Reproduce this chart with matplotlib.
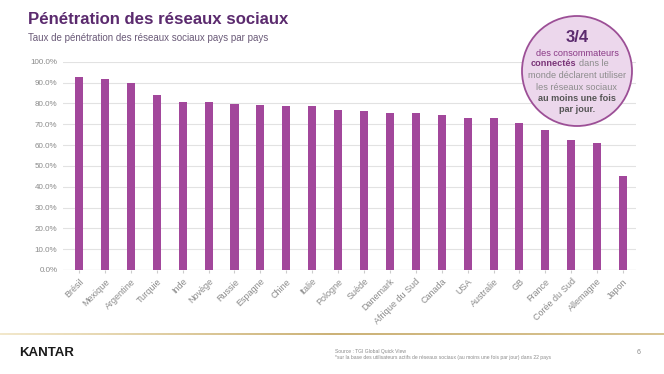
import matplotlib.pyplot as plt
import numpy as np
from matplotlib.patches import Circle

plt.rcParams['font.family'] = ['Liberation Sans', 'DejaVu Sans']

# Données (taux de pénétration, %)
pays = ['Brésil', 'Mexique', 'Argentine', 'Turquie', 'Inde', 'Novège', 'Russie',
        'Espagne', 'Chine', 'Italie', 'Pologne', 'Suède', 'Danemark',
        'Afrique du Sud', 'Canada', 'USA', 'Australie', 'GB', 'France',
        'Corée du Sud', 'Allemagne', 'Japon']
taux = [92.5, 91.7, 89.6, 84.2, 80.7, 80.5, 79.8, 79.4, 78.9, 78.6, 76.7, 76.4,
        75.6, 75.3, 74.3, 73.0, 72.9, 70.8, 67.0, 62.5, 61.2, 44.9]
graduations = [0, 10, 20, 30, 40, 50, 60, 70, 80, 90, 100]

violet = '#a2479b'
violet_fonce = '#5b2a6e'
gris = '#8a8a8a'

W, H = 664, 374
fig = plt.figure(figsize=(W / 100, H / 100), dpi=100)
fig.patch.set_facecolor('white')

ax = fig.add_axes([63 / W, 1 - 270 / H, (636 - 63) / W, (270 - 61.7) / H])
x = np.arange(len(pays))
ax.bar(x, taux, width=0.31, color=violet, zorder=3)
ax.set_xlim(-0.62, len(pays) - 0.5)
ax.set_ylim(0, 100)
ax.set_yticks(graduations)
ax.set_yticklabels([f'{v:.1f}%' for v in graduations], fontsize=5.8, color=gris)
ax.set_xticks(x)
ax.set_xticklabels(pays, rotation=45, ha='right', rotation_mode='anchor',
                   fontsize=6.5, color=gris)
ax.tick_params(axis='y', length=0, pad=4)
ax.tick_params(axis='x', length=2, color='#cccccc', pad=3)
ax.grid(axis='y', color='#e2e2e2', linewidth=0.8, zorder=0)
for sp in ax.spines.values():
    sp.set_visible(False)
ax.axhline(0, color='#d8d8d8', linewidth=0.8, zorder=1)

# Titres
fig.text(28 / W, 1 - 20 / H, 'Pénétration des réseaux sociaux', fontsize=12.1,
         fontweight='bold', color=violet_fonce, va='center')
fig.text(28 / W, 1 - 38 / H, 'Taux de pénétration des réseaux sociaux pays par pays',
         fontsize=7.0, color='#6a5a78', va='center')

# Bulle
cx, cy, r = 577, 71, 55
circ = Circle((cx / 100, (H - cy) / 100), r / 100, transform=fig.dpi_scale_trans,
              facecolor='#ecd7ec', edgecolor='#9c4f96', linewidth=1.3, zorder=5)
fig.patches.append(circ)

def ligne(y, txt, **kw):
    fig.text(cx / W, 1 - y / H, txt, ha='center', va='center', zorder=6, **kw)

ligne(37, '3/4', fontsize=12, fontweight='bold', color=violet_fonce)
ligne(53, 'des consommateurs', fontsize=6.6, color='#8a3a86')
fig.text(576 / W, 1 - 64 / H, 'connectés', ha='right', va='center', fontsize=6.6,
         fontweight='bold', color='#7a3478', zorder=6)
fig.text(579 / W, 1 - 64 / H, 'dans le', ha='left', va='center', fontsize=6.6,
         color='#8c8c8c', zorder=6)
ligne(75.5, 'monde déclarent utiliser', fontsize=6.6, color='#8c8c8c')
ligne(87, 'les réseaux sociaux', fontsize=6.6, color='#8c8c8c')
ligne(98.5, 'au moins une fois', fontsize=6.6, fontweight='bold', color='#555555')
ligne(110, 'par jour.', fontsize=6.6, fontweight='bold', color='#555555')

# Filet doré
ax_or = fig.add_axes([0, 1 - 335 / H, 1, 2 / H])
grad = np.linspace(0, 1, 256)
couleurs = np.array([[0.95, 0.91, 0.80], [0.80, 0.70, 0.47], [0.85, 0.77, 0.58]])
pts = np.linspace(0, 1, len(couleurs))
img = np.stack([np.interp(grad, pts, couleurs[:, k]) for k in range(3)], axis=-1)
ax_or.imshow(img[None, :, :], aspect='auto', extent=[0, 1, 0, 1])
ax_or.axis('off')

# Pied de page
fig.text(19 / W, 1 - 353 / H, 'KANTAR', fontsize=9.5, fontweight='bold',
         color='#1a1a1a', va='center')
fig.text(335 / W, 1 - 351 / H, 'Source : TGI Global Quick View', fontsize=3.6,
         color=gris, va='center')
fig.text(335 / W, 1 - 357 / H,
         '*sur la base des utilisateurs actifs de réseaux sociaux (au moins une fois par jour) dans 22 pays',
         fontsize=3.6, color=gris, va='center')
fig.text(637 / W, 1 - 352 / H, '6', fontsize=5, color=gris, va='center')

fig.savefig('out.png', dpi=100)
